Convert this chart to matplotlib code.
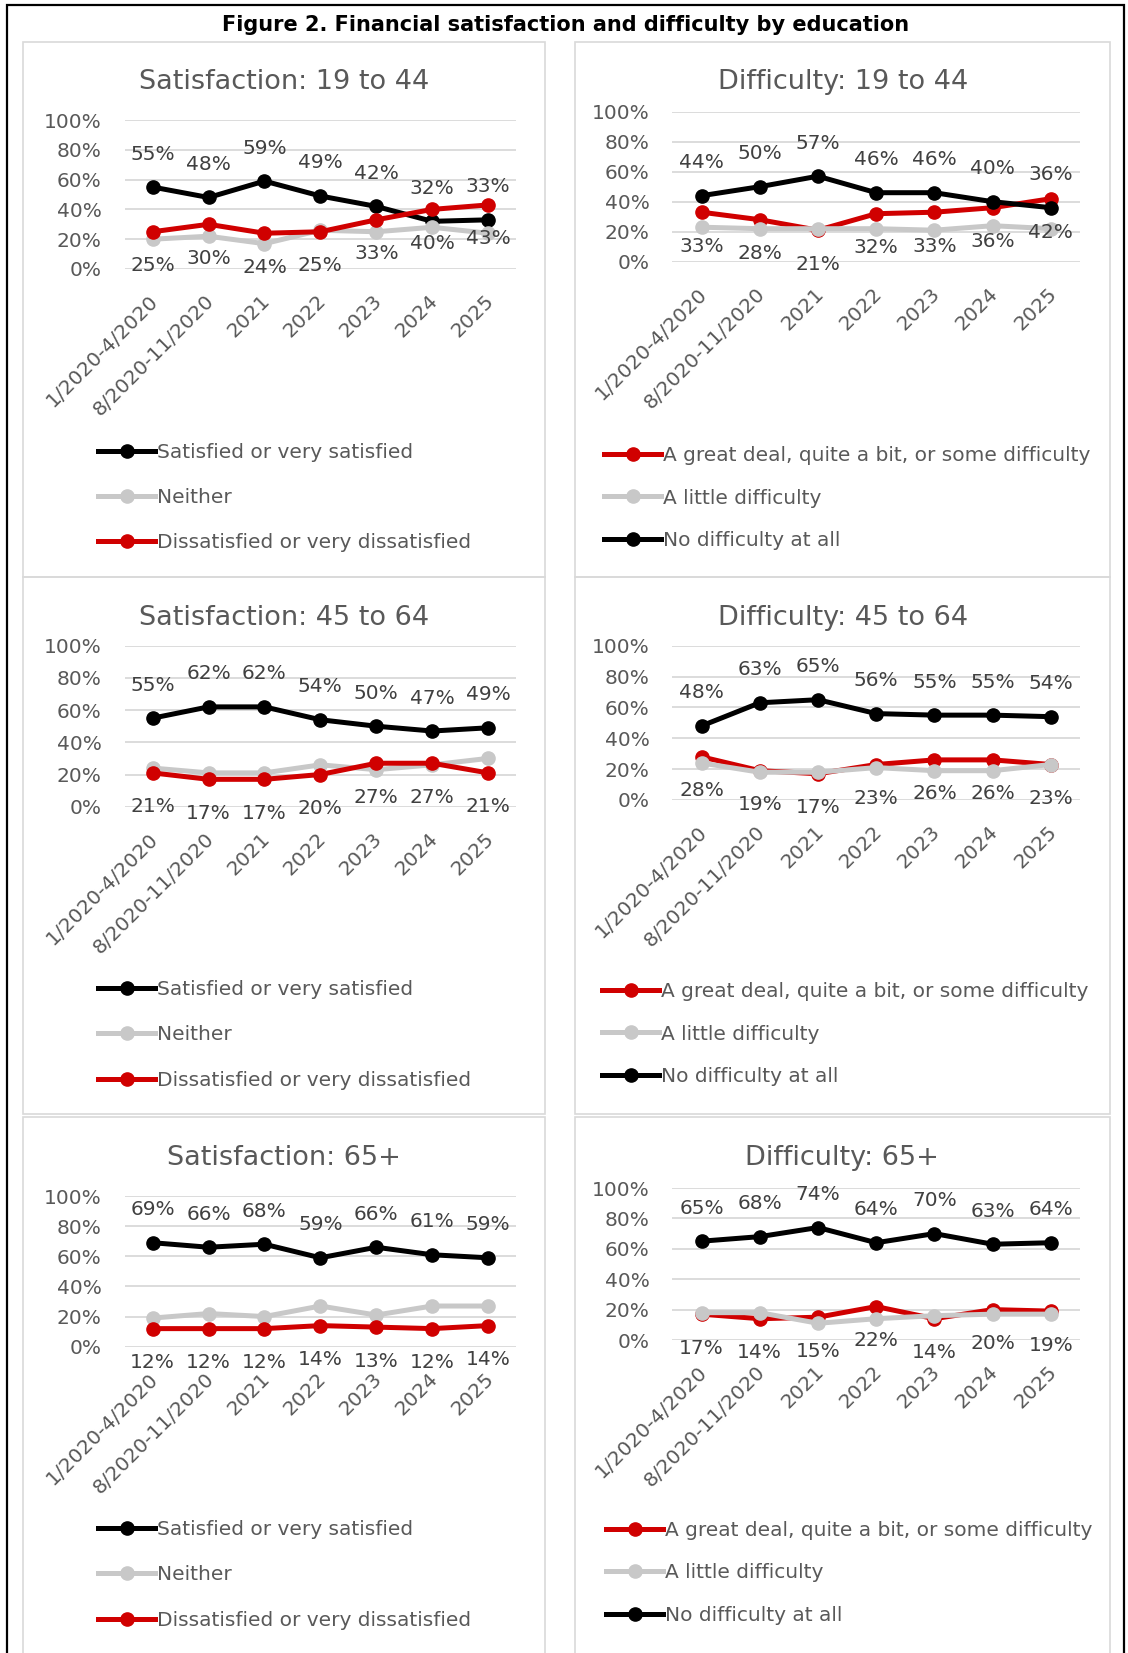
import matplotlib
matplotlib.use("Agg")
import matplotlib.pyplot as plt
import matplotlib.transforms as mtransforms
from matplotlib.lines import Line2D
from matplotlib.patches import Rectangle

# ---------------- data ----------------
periods = ["1/2020-4/2020", "8/2020-11/2020", "2021", "2022", "2023", "2024", "2025"]

sat_labels = ["Satisfied or very satisfied", "Neither", "Dissatisfied or very dissatisfied"]
dif_labels = ["A great deal, quite a bit, or some difficulty", "A little difficulty", "No difficulty at all"]

sat_19_44_satisfied = [55, 48, 59, 49, 42, 32, 33]
sat_19_44_neither = [20, 22, 17, 26, 25, 28, 24]
sat_19_44_dissatisfied = [25, 30, 24, 25, 33, 40, 43]

dif_19_44_some = [33, 28, 21, 32, 33, 36, 42]
dif_19_44_little = [23, 22, 22, 22, 21, 24, 22]
dif_19_44_none = [44, 50, 57, 46, 46, 40, 36]

sat_45_64_satisfied = [55, 62, 62, 54, 50, 47, 49]
sat_45_64_neither = [24, 21, 21, 26, 23, 26, 30]
sat_45_64_dissatisfied = [21, 17, 17, 20, 27, 27, 21]

dif_45_64_some = [28, 19, 17, 23, 26, 26, 23]
dif_45_64_little = [24, 18, 18, 21, 19, 19, 23]
dif_45_64_none = [48, 63, 65, 56, 55, 55, 54]

sat_65_satisfied = [69, 66, 68, 59, 66, 61, 59]
sat_65_neither = [19, 22, 20, 27, 21, 27, 27]
sat_65_dissatisfied = [12, 12, 12, 14, 13, 12, 14]

dif_65_some = [17, 14, 15, 22, 14, 20, 19]
dif_65_little = [18, 18, 11, 14, 16, 17, 17]
dif_65_none = [65, 68, 74, 64, 70, 63, 64]

titles = ["Satisfaction: 19 to 44", "Difficulty: 19 to 44",
          "Satisfaction: 45 to 64", "Difficulty: 45 to 64",
          "Satisfaction: 65+", "Difficulty: 65+"]
fig_title = "Figure 2. Financial satisfaction and difficulty by education"

# ---------------- styles ----------------
BLACK = "#000000"
GRAY = "#C8C8C8"
RED = "#D00000"
TXT = "#595959"
LBL = "#404040"
GRID = "#D9D9D9"
FS = 14.5

W, H = 1128, 1653

# series: (values, color, legend label, data label position)
panels = [
    [(sat_19_44_satisfied, BLACK, sat_labels[0], "above"),
     (sat_19_44_neither, GRAY, sat_labels[1], None),
     (sat_19_44_dissatisfied, RED, sat_labels[2], "below")],
    [(dif_19_44_some, RED, dif_labels[0], "below"),
     (dif_19_44_little, GRAY, dif_labels[1], None),
     (dif_19_44_none, BLACK, dif_labels[2], "above")],
    [(sat_45_64_satisfied, BLACK, sat_labels[0], "above"),
     (sat_45_64_neither, GRAY, sat_labels[1], None),
     (sat_45_64_dissatisfied, RED, sat_labels[2], "below")],
    [(dif_45_64_some, RED, dif_labels[0], "below"),
     (dif_45_64_little, GRAY, dif_labels[1], None),
     (dif_45_64_none, BLACK, dif_labels[2], "above")],
    [(sat_65_satisfied, BLACK, sat_labels[0], "above"),
     (sat_65_neither, GRAY, sat_labels[1], None),
     (sat_65_dissatisfied, RED, sat_labels[2], "below")],
    [(dif_65_some, RED, dif_labels[0], "below"),
     (dif_65_little, GRAY, dif_labels[1], None),
     (dif_65_none, BLACK, dif_labels[2], "above")],
]

# layout in pixels: plot box (left, top, right, bottom), title center, legend (left, center y, row spacing)
plot_boxes = [(124.7, 120, 516, 269), (672.4, 111.7, 1080, 261.7),
              (124.7, 645.7, 516, 806.7), (672.4, 645.7, 1080, 800),
              (124.7, 1196, 516, 1346.7), (672.4, 1188, 1080, 1340)]
title_pos = [(284, 82), (843, 82), (284, 618), (843, 618), (284, 1158), (842, 1158)]
legend_pos = [(98, 497.5, 1.31), (604, 498, 1.15),
              (98, 1035, 1.31), (602, 1034, 1.15),
              (98, 1575, 1.31), (606, 1573, 1.15)]
panel_rects = [(23, 42, 545, 577), (575, 42, 1110, 577),
               (23, 577, 545, 1114), (575, 577, 1110, 1114),
               (23, 1117, 545, 1670), (575, 1117, 1110, 1670)]


def fx(x):
    return x / W


def fy(y):
    return 1 - y / H


fig = plt.figure(figsize=(W / 100, H / 100), dpi=100)
fig.patch.set_facecolor("white")

# outer frame and panel frames
fig.add_artist(Rectangle((fx(7), fy(1670)), fx(1124) - fx(7), fy(5) - fy(1670),
                         transform=fig.transFigure, fill=False, edgecolor="black", linewidth=1.6))
for (l, t, r, b) in panel_rects:
    fig.add_artist(Rectangle((fx(l), fy(b)), fx(r) - fx(l), fy(t) - fy(b),
                             transform=fig.transFigure, fill=False, edgecolor=GRID, linewidth=1.2))

fig.text(fx(566), fy(25), fig_title, ha="center", va="center", fontsize=15,
         fontweight="bold", color="black", family="DejaVu Sans")

x = list(range(len(periods)))
for i, series in enumerate(panels):
    l, t, r, b = plot_boxes[i]
    ax = fig.add_axes([fx(l), fy(b), fx(r) - fx(l), fy(t) - fy(b)])
    ax.set_xlim(-0.5, len(periods) - 0.5)
    ax.set_ylim(0, 100)
    for s in ax.spines.values():
        s.set_visible(False)
    ax.set_yticks([0, 20, 40, 60, 80, 100])
    ax.set_yticklabels([f"{v}%" for v in [0, 20, 40, 60, 80, 100]])
    ax.yaxis.grid(True, color=GRID, linewidth=1.3)
    ax.set_axisbelow(True)
    ax.tick_params(axis="y", length=0, pad=16.5, labelsize=FS, labelcolor=TXT)
    ax.set_xticks(x)
    ax.set_xticklabels(periods, rotation=45, ha="right", va="top", rotation_mode="anchor")
    ax.tick_params(axis="x", length=0, pad=16, labelsize=FS, labelcolor=TXT)
    off = mtransforms.ScaledTranslation(-4 / 100, 0, fig.dpi_scale_trans)
    for lab in ax.get_xticklabels():
        lab.set_transform(lab.get_transform() + off)

    handles = []
    for vals, col, name, pos in series:
        ax.plot(x, vals, color=col, linewidth=3.6, marker="o", markersize=9.5,
                solid_capstyle="round", solid_joinstyle="round", clip_on=False)
        handles.append(Line2D([], [], color=col, linewidth=3.6, marker="o", markersize=9.5))
        if pos is not None:
            dy = 33 if pos == "above" else -34
            for xi, v in zip(x, vals):
                ax.annotate(f"{v}%", (xi, v), xytext=(0, dy), textcoords="offset pixels",
                            ha="center", va="center", fontsize=FS, color=LBL)

    tx, ty = title_pos[i]
    fig.text(fx(tx), fy(ty), titles[i], ha="center", va="center", fontsize=19.5, color=TXT)

    lx, ly, sp = legend_pos[i]
    ax.legend(handles, [h[2] for h in series], loc="center left",
              bbox_to_anchor=(fx(lx), fy(ly)), bbox_transform=fig.transFigure,
              frameon=False, fontsize=FS, labelcolor=TXT, handlelength=2.84,
              handletextpad=0.1, labelspacing=sp, borderpad=0, borderaxespad=0,
              numpoints=1)

fig.savefig("out.png", dpi=100, facecolor="white")
